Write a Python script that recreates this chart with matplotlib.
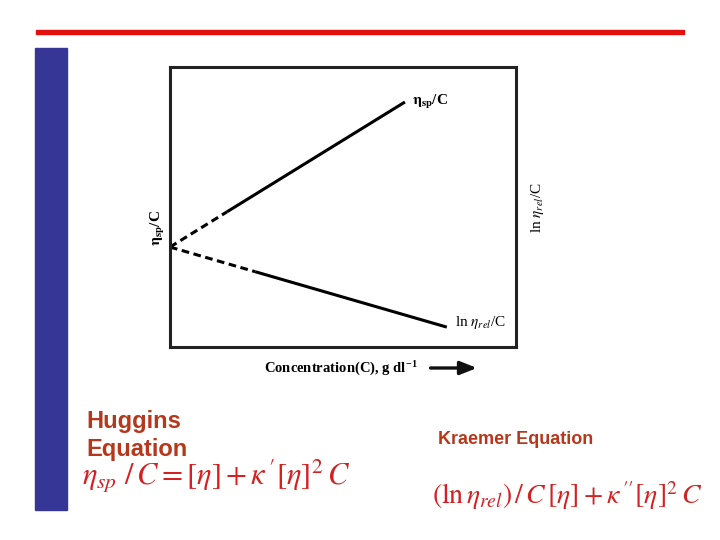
"""Slide: Huggins / Kraemer extrapolation of reduced and inherent viscosity to C = 0."""

import matplotlib
matplotlib.use("Agg")  # headless
import matplotlib.pyplot as plt
from matplotlib.patches import Rectangle

plt.rcParams["mathtext.fontset"] = "stix"

# ---- data (normalised concentration / viscosity units) ----
# solid measured ranges
conc_sp = [0.165, 0.679]
eta_sp_c = [0.483, 0.875]
conc_ln = [0.246, 0.800]
ln_eta_rel_c = [0.269, 0.071]
# dashed extrapolations back to C = 0 (common intercept = [eta])
conc_sp_ext = [0.0, 0.165]
eta_sp_c_ext = [0.357, 0.483]
conc_ln_ext = [0.0, 0.246]
ln_eta_rel_c_ext = [0.357, 0.269]

RED = "#e31010"
BLUE = "#363696"
HEAD = "#b5381c"
EQ = "#d42020"

fig = plt.figure(figsize=(7.2, 5.4), dpi=100)

# slide decorations
fig.patches.append(Rectangle((36 / 720, 1 - 34 / 540), 648 / 720, 4 / 540,
                             transform=fig.transFigure, color=RED, zorder=0))
fig.patches.append(Rectangle((35 / 720, 1 - 510 / 540), 32 / 720, 462 / 540,
                             transform=fig.transFigure, color=BLUE, zorder=0))

ax = fig.add_axes([170 / 720, 1 - 347 / 540, 346 / 720, 280 / 540])
ax.set_xlim(0, 1)
ax.set_ylim(0, 1)
ax.set_xticks([]); ax.set_yticks([])
for s in ax.spines.values():
    s.set_linewidth(2.2)
    s.set_color("#222222")

ax.plot(conc_sp, eta_sp_c, color="black", lw=2.2, solid_capstyle="butt")
ax.plot(conc_ln, ln_eta_rel_c, color="black", lw=2.2, solid_capstyle="butt")
ax.plot(conc_sp_ext, eta_sp_c_ext, color="black", lw=2.2, dashes=(2.5, 1.5))
ax.plot(conc_ln_ext, ln_eta_rel_c_ext, color="black", lw=2.2, dashes=(2.5, 1.5))

serif = "Liberation Serif"
ax.text(conc_sp[-1] + 0.02, eta_sp_c[-1], r"$\mathbf{\eta_{sp}}$/C", fontsize=11,
        family=serif, fontweight="bold", ha="left", va="center")
ax.text(conc_ln[-1] + 0.024, ln_eta_rel_c[-1] + 0.015, r"ln $\eta_{rel}$/C", fontsize=11,
        family=serif, ha="left", va="center")
ax.text(-0.035, 0.425, r"$\mathbf{\eta_{sp}}$/C", fontsize=11, family=serif,
        fontweight="bold", rotation=90, ha="center", va="center", transform=ax.transAxes)
ax.text(1.061, 0.5, r"ln $\eta_{rel}$/C", fontsize=11, family=serif,
        rotation=90, ha="center", va="center", transform=ax.transAxes)
ax.text(0.272, -0.075, r"Concentration(C), g dl$^{\mathregular{-1}}$", fontsize=10.5,
        family=serif, fontweight="bold", ha="left", va="center", transform=ax.transAxes)
ax.annotate("", xy=(0.895, -0.075), xytext=(0.745, -0.075),
            xycoords="axes fraction", textcoords="axes fraction",
            arrowprops=dict(arrowstyle="-|>,head_length=1.0,head_width=0.4",
                            color="#111111", lw=2.4), annotation_clip=False)

# equations
fig.text(86 / 720, 1 - 410 / 540, "Huggins\nEquation", fontsize=17, color=HEAD,
         family="Liberation Sans", fontweight="bold", ha="left", va="top",
         linespacing=1.3)
fig.text(438 / 720, 1 - 440 / 540, "Kraemer Equation", fontsize=13, color=HEAD,
         family="Liberation Sans", fontweight="bold", ha="left", va="center")
fig.text(82 / 720, 1 - 476 / 540,
         r"$\eta_{sp}\ /\,C = [\eta] + \kappa\,'[\eta]^{2}\,C$",
         fontsize=22, color=EQ, ha="left", va="center")
fig.text(432 / 720, 1 - 496 / 540,
         r"$(\ln\eta_{rel})\,/\,C\,[\eta] + \kappa\,''[\eta]^{2}\,C$",
         fontsize=20, color=EQ, ha="left", va="center")

fig.savefig("out.png", dpi=100)
